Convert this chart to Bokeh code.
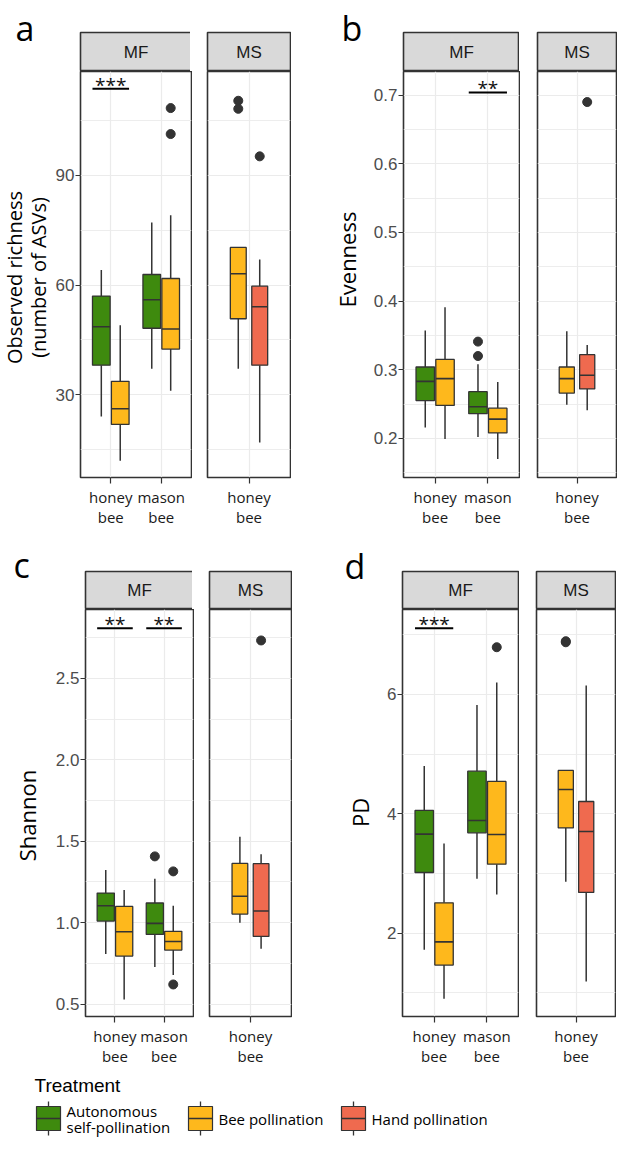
import math
from bokeh.plotting import figure
from bokeh.models import Range1d, FixedTicker, ColumnDataSource, NumeralTickFormatter
from bokeh.layouts import row, column
from bokeh.embed import file_html
from bokeh.resources import INLINE
from bokeh.core.properties import value

# ---------------- data ----------------
treatments = ["Autonomous self-pollination", "Bee pollination", "Hand pollination"]
treatment_colors = ["#3E8A0E", "#FEB81C", "#EF6A4F"]
legend_labels = ["Autonomous\nself-pollination", "Bee pollination", "Hand pollination"]
facet_hosts = {"MF": ["honey bee", "mason bee"], "MS": ["honey bee"]}

group_facet = ["MF", "MF", "MF", "MF", "MS", "MS"]
group_host = ["honey bee", "honey bee", "mason bee", "mason bee", "honey bee", "honey bee"]
group_treat = ["Autonomous self-pollination", "Bee pollination",
               "Autonomous self-pollination", "Bee pollination",
               "Bee pollination", "Hand pollination"]

# Observed richness
rich_lo = [24.1, 12.0, 37.1, 31.1, 37.1, 17.0]
rich_q1 = [38.1, 21.9, 48.2, 42.5, 50.8, 38.1]
rich_med = [48.6, 26.2, 56.0, 48.0, 63.1, 54.1]
rich_q3 = [57.0, 33.7, 62.9, 61.8, 70.3, 59.7]
rich_hi = [64.1, 49.0, 77.1, 79.1, 70.3, 67.0]
rich_out = [[], [], [], [108.4, 101.3], [110.4, 108.2], [95.2]]
rich_sig_host = ["honey bee"]
rich_sig_text = ["***"]
rich_sig_y = [113.7]

# Evenness
even_lo = [0.216, 0.199, 0.202, 0.170, 0.249, 0.241]
even_q1 = [0.255, 0.248, 0.236, 0.208, 0.266, 0.272]
even_med = [0.283, 0.287, 0.246, 0.228, 0.287, 0.292]
even_q3 = [0.304, 0.315, 0.268, 0.244, 0.304, 0.322]
even_hi = [0.357, 0.391, 0.308, 0.282, 0.356, 0.336]
even_out = [[], [], [0.341, 0.320], [], [], [0.690]]
even_sig_host = ["mason bee"]
even_sig_text = ["**"]
even_sig_y = [0.704]

# Shannon
shan_lo = [0.808, 0.529, 0.728, 0.679, 1.000, 0.840]
shan_q1 = [1.010, 0.795, 0.928, 0.832, 1.053, 0.916]
shan_med = [1.104, 0.945, 0.996, 0.885, 1.162, 1.072]
shan_q3 = [1.182, 1.100, 1.121, 0.947, 1.364, 1.362]
shan_hi = [1.324, 1.201, 1.270, 1.104, 1.528, 1.420]
shan_out = [[], [], [1.407], [1.315, 0.621], [], [2.732]]
shan_sig_host = ["honey bee", "mason bee"]
shan_sig_text = ["**", "**"]
shan_sig_y = [2.807, 2.807]

# Phylogenetic diversity
pd_lo = [1.722, 0.901, 2.911, 2.650, 2.861, 1.193]
pd_q1 = [3.018, 1.466, 3.682, 3.157, 3.765, 2.683]
pd_med = [3.660, 1.856, 3.889, 3.655, 4.409, 3.705]
pd_q3 = [4.057, 2.509, 4.715, 4.543, 4.727, 4.207]
pd_hi = [4.804, 3.504, 5.826, 6.203, 4.727, 6.150]
pd_out = [[], [], [], [6.792], [6.893, 6.875], []]
pd_sig_host = ["honey bee"]
pd_sig_text = ["***"]
pd_sig_y = [7.11]

# ---------------- style ----------------
DARK = "#333333"
GRID = "#EBEBEB"
TICK_FONT = "Liberation Sans"
HUM_FONT = "Open Sans"
color_of = dict(zip(treatments, treatment_colors))
BOX_W = {"MF": 0.35, "MS": 0.23}
DODGE = {"MF": 0.1875, "MS": 0.155}


def blank(p):
    p.xgrid.grid_line_color = None
    p.ygrid.grid_line_color = None


def style_main(p, facet, spec):
    hosts = facet_hosts[facet]
    xt = FixedTicker(ticks=list(range(1, len(hosts) + 1)), minor_ticks=[])
    yt = FixedTicker(ticks=spec["ticks"], minor_ticks=spec["minor"])
    p.xaxis.ticker = xt
    p.xgrid.ticker = xt
    p.ygrid.ticker = yt
    p.xaxis.major_label_overrides = {i + 1: h.replace(" ", "\n") for i, h in enumerate(hosts)}
    p.xaxis.axis_line_color = None
    p.xaxis.major_tick_out = 6
    p.xaxis.major_tick_in = 0
    p.xaxis.major_tick_line_color = DARK
    p.xaxis.major_tick_line_width = 1.2
    p.xaxis.minor_tick_line_color = None
    p.xaxis.major_label_standoff = 3
    p.xaxis.major_label_text_font = HUM_FONT
    p.xaxis.major_label_text_font_size = "15px"
    p.xaxis.major_label_text_color = "#1A1A1A"
    p.xaxis.major_label_text_line_height = 1.0
    if facet == "MF":
        p.yaxis.ticker = yt
        p.yaxis.formatter = NumeralTickFormatter(format=spec["fmt"])
        p.yaxis.axis_line_color = None
        p.yaxis.major_tick_out = 5
        p.yaxis.major_tick_in = 0
        p.yaxis.major_tick_line_color = DARK
        p.yaxis.major_tick_line_width = 1.2
        p.yaxis.minor_tick_line_color = None
        p.yaxis.major_label_standoff = 1
        p.yaxis.major_label_text_font = TICK_FONT
        p.yaxis.major_label_text_font_size = "17px"
        p.yaxis.major_label_text_color = "#4D4D4D"
    for g in (p.xgrid, p.ygrid):
        g.grid_line_color = GRID
        g.grid_line_width = 1.2
    p.ygrid.minor_grid_line_color = GRID
    p.ygrid.minor_grid_line_width = 0.9


def make_main(spec, facet, left, fw, right):
    hosts = facet_hosts[facet]
    p = figure(frame_width=fw, frame_height=spec["frame_h"],
               min_border_left=left, min_border_right=right,
               min_border_top=0, min_border_bottom=spec["bottom"],
               x_range=Range1d(0.4, len(hosts) + 0.6), y_range=spec["yr"],
               x_axis_location="below",
               y_axis_location="left" if facet == "MF" else None,
               toolbar_location=None, output_backend="svg",
               background_fill_color="white", border_fill_color="white",
               outline_line_color=DARK, outline_line_width=1.6)
    style_main(p, facet, spec)

    idx = [i for i in range(len(group_facet)) if group_facet[i] == facet]
    xs, xl, xr, cols = [], [], [], []
    ox, oy = [], []
    for i in idx:
        sib = [j for j in idx if group_host[j] == group_host[i]]
        k = sib.index(i)
        n = len(sib)
        x = hosts.index(group_host[i]) + 1 + (k - (n - 1) / 2) * 2 * DODGE[facet]
        xs.append(x)
        xl.append(x - BOX_W[facet] / 2)
        xr.append(x + BOX_W[facet] / 2)
        cols.append(color_of[group_treat[i]])
        for v in spec["out"][i]:
            ox.append(x)
            oy.append(v)
    src = ColumnDataSource(dict(
        x=xs, xl=xl, xr=xr, color=cols,
        lo=[spec["lo"][i] for i in idx], q1=[spec["q1"][i] for i in idx],
        med=[spec["med"][i] for i in idx], q3=[spec["q3"][i] for i in idx],
        hi=[spec["hi"][i] for i in idx]))
    p.segment(x0="x", y0="q3", x1="x", y1="hi", source=src, line_color=DARK, line_width=1.5)
    p.segment(x0="x", y0="lo", x1="x", y1="q1", source=src, line_color=DARK, line_width=1.5)
    p.vbar(x="x", width=BOX_W[facet], bottom="q1", top="q3", source=src,
           fill_color="color", line_color=DARK, line_width=1.3)
    p.segment(x0="xl", y0="med", x1="xr", y1="med", source=src, line_color=DARK, line_width=1.6)
    if ox:
        p.scatter(x=ox, y=oy, size=9, fill_color=DARK, line_color=DARK)

    if facet == "MF" and spec["sig_host"]:
        edge = DODGE[facet] + BOX_W[facet] / 2
        sx = [hosts.index(h) + 1 for h in spec["sig_host"]]
        ssrc = ColumnDataSource(dict(x=sx, x0=[v - edge for v in sx], x1=[v + edge for v in sx],
                                     y=spec["sig_y"], t=spec["sig_text"]))
        p.segment(x0="x0", y0="y", x1="x1", y1="y", source=ssrc, line_color="black", line_width=2)
        p.text(x="x", y="y", text="t", source=ssrc, text_align="center",
               text_baseline="alphabetic", y_offset=-4, text_font=value(HUM_FONT),
               text_font_size="19px", text_color="#111111")
    return p


def make_strip(spec, facet, left, fw, right):
    p = figure(frame_width=fw, frame_height=spec["strip_h"],
               min_border_left=left, min_border_right=right,
               min_border_top=spec["strip_top"], min_border_bottom=0,
               x_range=Range1d(0, 1), y_range=Range1d(0, 1),
               x_axis_location=None, y_axis_location=None,
               toolbar_location=None, output_backend="svg",
               background_fill_color="#D9D9D9", border_fill_color="white",
               outline_line_color=DARK, outline_line_width=1.6)
    blank(p)
    p.text(x=[0.5], y=[0.5], text=[facet], text_align="center", text_baseline="middle",
           text_font=value(TICK_FONT), text_font_size="17px", text_color="#1A1A1A")
    return p


def make_side(spec, width, total_h):
    # narrow figure holding the panel letter and the rotated y-axis title
    p = figure(frame_width=width, frame_height=total_h, min_border=0,
               x_range=Range1d(0, width), y_range=Range1d(total_h, 0),
               x_axis_location=None, y_axis_location=None,
               toolbar_location=None, output_backend="svg",
               background_fill_color="white", border_fill_color="white", outline_line_color=None)
    blank(p)
    lx, ly = spec["letter_pos"]
    p.text(x=[lx], y=[ly], text=[spec["letter"]], text_align="left", text_baseline="alphabetic",
           text_font=value(HUM_FONT), text_font_size="34px", text_color="black")
    tx = [t[1] for t in spec["titles"]]
    ty = [t[2] for t in spec["titles"]]
    tt = [t[0] for t in spec["titles"]]
    p.text(x=tx, y=ty, text=tt, angle=math.pi / 2, text_align="center", text_baseline="middle",
           text_font=value(HUM_FONT), text_font_size=spec["title_size"], text_color="black")
    return p


def build(spec):
    total_h = spec["strip_top"] + spec["strip_h"] + spec["frame_h"] + spec["bottom"]
    parts = [make_side(spec, spec["side_w"], total_h)]
    for facet, (left, fw, right) in zip(["MF", "MS"], spec["geom"]):
        s = make_strip(spec, facet, left, fw, right)
        m = make_main(spec, facet, left, fw, right)
        parts.append(column(s, m, spacing=0))
    return parts


top_common = dict(strip_top=32, strip_h=39, frame_h=406, bottom=55)
bot_common = dict(strip_top=39, strip_h=38, frame_h=407, bottom=46)

spec_a = dict(top_common, lo=rich_lo, q1=rich_q1, med=rich_med, q3=rich_q3, hi=rich_hi, out=rich_out,
              sig_host=rich_sig_host, sig_text=rich_sig_text, sig_y=rich_sig_y,
              yr=Range1d(7.4, 118.4), ticks=[30, 60, 90], minor=[15, 45, 75, 105], fmt="0",
              side_w=52, geom=[(26, 111, 1), (15, 83, 1)], letter="a", letter_pos=(15, 27),
              title_size="20px",
              titles=[("Observed richness", 14, 277), ("(number of ASVs)", 38, 277)])
spec_b = dict(top_common, lo=even_lo, q1=even_q1, med=even_med, q3=even_q3, hi=even_hi, out=even_out,
              sig_host=even_sig_host, sig_text=even_sig_text, sig_y=even_sig_y,
              yr=Range1d(0.143, 0.7345), ticks=[0.2, 0.3, 0.4, 0.5, 0.6, 0.7],
              minor=[0.15, 0.25, 0.35, 0.45, 0.55, 0.65], fmt="0.0",
              side_w=79, geom=[(32, 116, 1), (17, 79, 1)], letter="b", letter_pos=(50, 27),
              title_size="22px", titles=[("Evenness", 55, 259)])
spec_c = dict(bot_common, lo=shan_lo, q1=shan_q1, med=shan_med, q3=shan_q3, hi=shan_hi, out=shan_out,
              sig_host=shan_sig_host, sig_text=shan_sig_text, sig_y=shan_sig_y,
              yr=Range1d(0.4245, 2.922), ticks=[0.5, 1.0, 1.5, 2.0, 2.5],
              minor=[0.75, 1.25, 1.75, 2.25, 2.75], fmt="0.0",
              side_w=52, geom=[(31, 108, 1), (15, 82, 1)], letter="c", letter_pos=(13, 32),
              title_size="22px", titles=[("Shannon", 26, 283)])
spec_d = dict(bot_common, lo=pd_lo, q1=pd_q1, med=pd_med, q3=pd_q3, hi=pd_hi, out=pd_out,
              sig_host=pd_sig_host, sig_text=pd_sig_text, sig_y=pd_sig_y,
              yr=Range1d(0.605, 7.424), ticks=[2, 4, 6], minor=[1, 3, 5, 7], fmt="0",
              side_w=86, geom=[(24, 116, 1), (17, 79, 1)], letter="d", letter_pos=(52, 33),
              title_size="22px", titles=[("PD", 67, 280)])

top = row(*build(spec_a), *build(spec_b), spacing=0)
bottom = row(*build(spec_c), *build(spec_d), spacing=0)

# ---------------- legend ----------------
leg = figure(frame_width=614, frame_height=71, min_border=0,
             x_range=Range1d(0, 614), y_range=Range1d(71, 0),
             x_axis_location=None, y_axis_location=None,
             toolbar_location=None, output_backend="svg",
             background_fill_color="white", border_fill_color="white", outline_line_color=None)
blank(leg)
key_left = [36, 188, 341]
key_w = 24
key_mid = 50
lsrc = ColumnDataSource(dict(
    l=key_left, r=[k + key_w for k in key_left], c=[k + key_w / 2 for k in key_left],
    top=[key_mid - 12] * 3, bot=[key_mid + 12] * 3, s0=[key_mid - 17] * 3, s1=[key_mid + 17] * 3,
    mid=[key_mid] * 3, color=treatment_colors))
leg.segment(x0="c", y0="s0", x1="c", y1="s1", source=lsrc, line_color=DARK, line_width=1.3)
leg.quad(left="l", right="r", top="top", bottom="bot", source=lsrc,
         fill_color="color", line_color=DARK, line_width=1.2)
leg.segment(x0="l", y0="mid", x1="r", y1="mid", source=lsrc, line_color=DARK, line_width=1.4)
tx, ty, tt = [], [], []
for k, lab in zip(key_left, legend_labels):
    lines = lab.split("\n")
    n = len(lines)
    for j, ln in enumerate(lines):
        tx.append(k + key_w + 6)
        ty.append(key_mid + (j - (n - 1) / 2) * 16)
        tt.append(ln)
leg.text(x=tx, y=ty, text=tt, text_align="left", text_baseline="middle",
         text_font=value(HUM_FONT), text_font_size="15px", text_color="black")
leg.text(x=[34], y=[17], text=["Treatment"], text_align="left", text_baseline="middle",
         text_font=value(TICK_FONT), text_font_size="19px", text_color="black")

layout = column(top, bottom, leg, spacing=0)
open("out.html", "w").write(file_html(layout, INLINE))
